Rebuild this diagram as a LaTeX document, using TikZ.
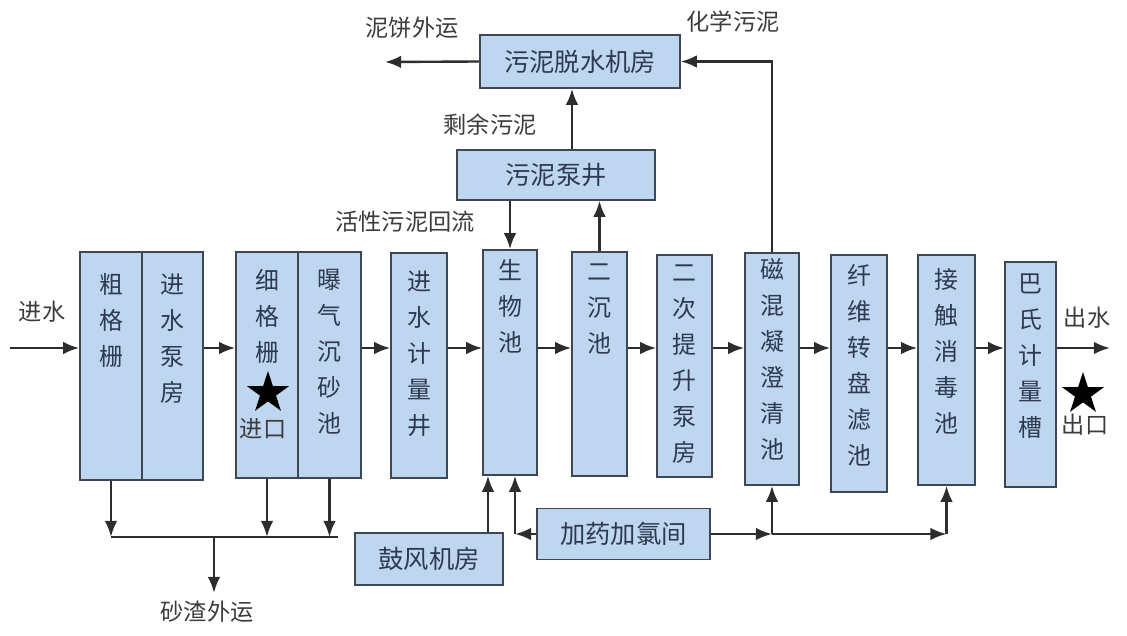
\documentclass[tikz,border=0pt]{standalone}
\usepackage{fontspec}
\setmainfont{Noto Sans CJK SC}
\definecolor{tankblue}{RGB}{190,214,240}
\definecolor{tankline}{RGB}{62,72,84}
\definecolor{tanktext}{RGB}{45,58,80}
\definecolor{linegray}{RGB}{45,45,45}
\definecolor{labelgray}{RGB}{60,60,60}
\usetikzlibrary{arrows.meta,shapes.geometric,positioning}

\begin{document}
\begin{tikzpicture}[x=0.025cm,y=-0.025cm,
    every node/.style={inner sep=0pt},
    tank/.style={draw=tankline,fill=tankblue,line width=1.1pt},
    vtext/.style={anchor=north,yshift=-0.45cm,align=center,text=tanktext,
        font=\fontsize{17}{25.6}\selectfont},
    htext/.style={text=tanktext,font=\fontsize{18}{21}\selectfont},
    note/.style={text=labelgray,font=\fontsize{16.5}{19}\selectfont},
    flow/.style={draw=linegray,line width=1.7pt,-{Latex[length=11.5pt,width=9pt]}},
    pipe/.style={draw=linegray,line width=1.7pt},
    bigstar/.style={star,star points=5,star point ratio=2.618,fill=black,minimum size=1.1cm}
    ]
    \useasboundingbox (0,0) rectangle (1127,636);

    % main line of tanks
    \node[tank,minimum width=1.55cm,minimum height=5.7cm,label={[vtext,yshift=-0.1cm]north:粗\\格\\栅}] (cgs) at (111,366) {};
    \node[tank,minimum width=1.525cm,minimum height=5.7cm,label={[vtext,yshift=-0.1cm]north:进\\水\\泵\\房}] (jsb) at (172.5,366) {};
    \node[tank,minimum width=1.55cm,minimum height=5.65cm,label={[vtext]north:细\\格\\栅}] (xgs) at (267,365) {};
    \node[tank,minimum width=1.575cm,minimum height=5.65cm,label={[vtext]north:曝\\气\\沉\\砂\\池}] (cs) at (329.5,365) {};
    \node[tank,minimum width=1.4cm,minimum height=5.625cm,label={[vtext]north:进\\水\\计\\量\\井}] (jsj) at (419,365.5) {};
    \node[tank,minimum width=1.35cm,minimum height=5.625cm,label={[vtext,yshift=0.2cm]north:生\\物\\池}] (swc) at (510,362.5) {};
    \node[tank,minimum width=1.375cm,minimum height=5.6cm,label={[vtext,yshift=0.15cm]north:二\\沉\\池}] (ecc) at (599.5,364) {};
    \node[tank,minimum width=1.375cm,minimum height=5.55cm,label={[vtext,yshift=0.2cm]north:二\\次\\提\\升\\泵\\房}] (tsbf) at (684.5,366) {};
    \node[tank,minimum width=1.35cm,minimum height=5.8cm,label={[vtext,yshift=0.3cm]north:磁\\混\\凝\\澄\\清\\池}] (chn) at (772,369) {};
    \node[tank,minimum width=1.4cm,minimum height=5.925cm,label={[vtext,yshift=0.2cm]north:纤\\维\\转\\盘\\滤\\池}] (xwl) at (859,373.5) {};
    \node[tank,minimum width=1.425cm,minimum height=5.75cm,label={[vtext,yshift=0.1cm]north:接\\触\\消\\毒\\池}] (jcx) at (946.5,370) {};
    \node[tank,minimum width=1.275cm,minimum height=5.625cm,label={[vtext,yshift=0.15cm]north:巴\\氏\\计\\量\\槽}] (bsj) at (1030.5,374.5) {};

    % sludge and dosing rooms
    \node[tank,minimum width=5cm,minimum height=1.325cm,htext] (tsj) at (580,61.5) {污泥脱水机房};
    \node[tank,minimum width=4.95cm,minimum height=1.25cm,htext] (nbj) at (556,175) {污泥泵井};
    \node[tank,minimum width=3.7cm,minimum height=1.3cm,htext] (gfj) at (429,559) {鼓风机房};
    \node[tank,minimum width=4.325cm,minimum height=1.275cm,htext] (jyj) at (623.5,534) {加药加氯间};

    % stars
    \node[bigstar] (jkstar) at (268,393) {};
    \node[note] (jk) at (263,429) {进口};
    \node[bigstar] (ckstar) at (1083,394) {};
    \node[note] (ck) at (1085,425) {出口};

    % labels
    \node[note] (jsl) at (42,312) {进水};
    \node[note] (csl) at (1087,318) {出水};
    \node[note] (nbl) at (412,28) {泥饼外运};
    \node[note] (hxl) at (733,22) {化学污泥};
    \node[note] (syl) at (490,125) {剩余污泥};
    \node[note] (hxhl) at (405,222) {活性污泥回流};
    \node[note] (szl) at (207,612) {砂渣外运};

    \coordinate (mainy) at (0,348);
    \coordinate (inlet) at (10,348);
    \coordinate (outlet) at (1110,348);
    \coordinate (nbout) at (385,62);
    \coordinate (szline) at (0,537);
    \coordinate (szend) at (338,537);
    \coordinate (szout) at (214,593);
    \coordinate (szmid) at (214,537);

    % water line
    \draw[flow] (inlet) -- (cgs.west |- mainy);
    \draw[flow] (jsb.east |- mainy) -- (xgs.west |- mainy);
    \draw[flow] (cs.east |- mainy) -- (jsj.west |- mainy);
    \draw[flow] (jsj.east |- mainy) -- (swc.west |- mainy);
    \draw[flow] (swc.east |- mainy) -- (ecc.west |- mainy);
    \draw[flow] (ecc.east |- mainy) -- (tsbf.west |- mainy);
    \draw[flow] (tsbf.east |- mainy) -- (chn.west |- mainy);
    \draw[flow] (chn.east |- mainy) -- (xwl.west |- mainy);
    \draw[flow] (xwl.east |- mainy) -- (jcx.west |- mainy);
    \draw[flow] (jcx.east |- mainy) -- (bsj.west |- mainy);
    \draw[flow] (bsj.east |- mainy) -- (outlet);

    % sludge line
    \coordinate (syup) at ([xshift=0.4cm]nbj.north);
    \draw[flow] (tsj.west) -- (nbout);
    \draw[flow] (chn.north) |- (tsj.east);
    \draw[flow] (syup) -- (syup |- tsj.south);
    \draw[flow] (ecc.north) -- (ecc.north |- nbj.south);
    \draw[flow] (swc.north |- nbj.south) -- (swc.north);

    % grit and screenings
    \draw[flow] (cgs.south) -- (cgs.south |- szline);
    \draw[flow] (xgs.south) -- (xgs.south |- szline);
    \draw[flow] (cs.south) -- (cs.south |- szline);
    \draw[pipe] (cgs.south |- szline) -- (szend);
    \draw[flow] (szmid) -- (szout);

    % air and dosing
    \coordinate (gfin) at ([xshift=-0.55cm]swc.south);
    \coordinate (jyin) at ([xshift=0.125cm]swc.south);
    \draw[flow] (gfin |- gfj.north) -- (gfin);
    \draw[flow] (jyj.west) -- (jyin |- jyj.west);
    \draw[flow] (jyin |- jyj.west) -- (jyin);
    \draw[flow] (jyj.east) -- (chn.south |- jyj.east);
    \draw[flow] (chn.south |- jyj.east) -- (jcx.south |- jyj.east);
    \draw[flow] (chn.south |- jyj.east) -- (chn.south);
    \draw[flow] (jcx.south |- jyj.east) -- (jcx.south);
\end{tikzpicture}
\end{document}
